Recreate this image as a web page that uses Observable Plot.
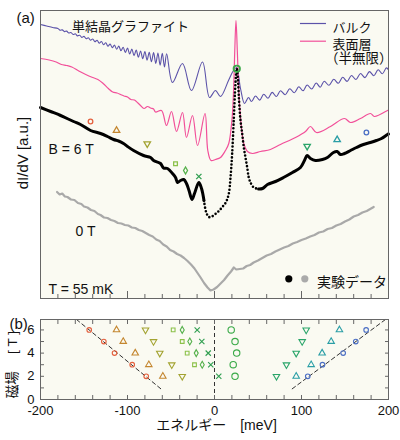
<!DOCTYPE html>
<html lang="ja">
<head>
<meta charset="utf-8">
<script src="https://cdn.jsdelivr.net/npm/d3@7"></script>
<script src="https://cdn.jsdelivr.net/npm/@observablehq/plot@0.6"></script>
<style>
html,body{margin:0;padding:0;background:#fff;}
#chart{width:400px;height:440px;}
#chart svg{display:block;}
</style>
</head>
<body>
<div id="chart"></div>
<script>
// ---------------- data ----------------
// energy E [meV], dI/dV [a.u.]
const xTicksMinor = [-200,-180,-160,-140,-120,-100,-80,-60,-40,-20,0,20,40,60,80,100,120,140,160,180,200];
const xTicksMajor = [-200,-100,0,100,200];
const xTickLabels = [-200,-100,0,100,200];
const bTicks = [0,1,2,3,4,5,6];
const bTickLabels = [0,2,4,6];

// calculated bulk spectrum (blue)
const bulk = [
[-200,274],[-193,272.5],[-186,271],
[-180,270.0],[-177.5,268.3],[-175,268.6],[-172.5,266.9],[-170,267.4],[-167.5,265.5],[-165,266.0],[-162.5,264.0],
[-160,264.7],[-157.5,262.6],[-155,263.3],[-152.5,261.1],[-150,262.1],[-147.5,259.8],[-145,260.8],[-142.5,258.3],
[-140,259.5],[-137.5,256.8],[-135,258.2],[-132.5,255.3],[-130,257.0],[-127.5,253.8],[-125,255.7],[-122.5,252.3],
[-120,254.5],[-117.5,250.8],[-115,253.4],[-112.5,249.3],[-110,252.4],[-107.5,247.7],[-105,251.3],[-102.5,246.1],
[-100,250.4],[-97.5,244.5],[-95,249.4],[-92.5,242.9],[-90,248.5],[-87.5,241.3],[-85,247.5],[-82.5,239.8],
[-80,246.9],[-77.5,238.4],[-75,246.2],[-72.5,236.8],[-70,245.9],[-67.5,235.1],[-65,245.5],[-62.5,233.3],
[-60,245.2],[-57.5,231.5],[-55,244.8],
[-48.3,216],[-36.8,235],[-26.5,208],[-13.8,236.5],[-5.7,201],[1.1,208],[6.9,202],[16.1,218],[21.8,228],
[25.3,231],[29.9,210],[34.5,195],[39.1,201],[42.5,197],
[47.1,202.5],[51.9,198.4],[56.6,204.3],[61.5,200.2],[66.3,206.1],[71.1,202.0],[75.8,207.8],[81.2,203.8],
[86.5,209.8],[91.7,205.8],[96.9,211.8],[101.7,207.7],[106.5,213.5],[111.7,209.5],[116.9,215.5],[121.5,211.3],
[126.1,217.2],[131.6,213.2],[137.1,219.2],[142.3,215.2],[147.4,221.2],[152.4,217.1],[157.4,223.0],[162.6,219.0],
[167.8,225.0],[173.0,220.9],[178.1,226.9],[183.1,222.8],[188.1,228.8],[192.9,224.7],[197.6,230.6],[200,228.5]
];

// calculated surface (semi-infinite) spectrum (pink)
const surface = [
[-200,240],[-190,238.5],[-182,236.5],[-176,234],[-170,233],[-164,231.5],[-156,227.5],[-148,224],[-140,221],
[-134,219],[-128,215],[-122,210],[-117,206.5],[-112,205.5],[-108,204],[-104,202.5],[-100,201.5],[-96,199],
[-92,198.5],[-88,195.5],[-85,193],[-81,190],[-77,192],[-73.5,190.5],[-70,189.5],[-67.8,186.5],
[-60.9,188],[-55.2,173],[-49.4,187],[-43.7,167],[-36.8,186],[-32.2,161],[-25.3,183],[-19.5,153],[-10.9,185],
[-7.7,148],[-4,138],[1.1,139],[6.9,141],[12.6,148],[16.4,155],[20.3,181],[22.2,215],[23.3,248],[24.7,278],
[26.2,248],[27.6,215],[29.9,181],[33.7,155],[37.9,147],[43.7,145],[52.9,147],[64.3,149],[75.8,154],
[93.1,161],[104.6,167],[110.3,172],[117.2,166],[133.3,172],[149.4,180],[156.3,176],[167.8,180],[179.2,185],
[183.8,182],[198.8,188],[200,188.5]
];

// measured, B = 6 T (black)
const black6T = [
[-200,191],[-188.4,187],[-176.9,183],[-162,177],[-154,174],[-142.5,168],[-131,165],[-123,162],[-116,159],
[-110.3,157.5],[-104.6,155],[-100,152],[-93,148],[-81.6,143],[-73.5,141],[-70,138],[-62,135],[-58.6,130.5],
[-54,130],[-48.3,125],[-44.8,121],[-42.5,116],[-39.1,118],[-35.3,119],[-32.2,115],[-29.3,108],[-25.9,99],
[-23,105],[-18,116],[-14.9,110],[-12.1,98],[-9.5,86],[-6.5,81.5],[-3,82],[1,84.5],[5,87.5],[9,91.5],[13,96],
[16.4,104.7],[18.4,121],[20.3,145],[22.2,180],[23.6,207],[24.7,223],[25.6,230],[27,218],[28.2,198],[29.9,178],
[31.8,165],[33.7,151],[35.6,141],[37.6,131],[39.4,121],[41.9,115],[45.2,111],[50.6,109.5],[55.2,110],
[60.9,114],[70.1,117],[79.3,121],[89.6,126],[98.8,131],[103.4,138],[106.5,143],[110.3,140],[116,138],
[124.1,139],[129.8,141],[136.7,146],[141,147],[144.8,144],[149.4,145],[156.3,148],[163.2,151],[171.2,154],
[179.2,156],[186.1,158],[191.9,160],[198.8,164],[200,164.5]
];

// measured, B = 0 T (gray)
const gray0T = [
[-181,106.5],[-178,104],[-175,105],[-172,102],[-169,101.5],[-165,99],[-161,98.5],[-157,95.5],[-153,94.5],
[-150,92],[-146,91],[-142,88.5],[-138,87.5],[-134,84.5],[-131,83.5],[-127,81],[-123,80.5],[-119,78.5],
[-115,77.5],[-111,75.5],[-107,75],[-103,73.5],[-99,73],[-95,71],[-91,70.5],[-87,68.5],[-83,67.5],[-79,65.5],
[-75,63.5],[-71,62],[-67,59],[-63,57.5],[-59,54],[-55,52],[-51,48.5],[-47,47],[-43,44.5],[-39,43],[-35,40.5],
[-31,37.5],[-27,34],[-23,30],[-19.9,26],[-16,21],[-12,15.5],[-8,11],[-4.6,8],[-1,9],[3,11.5],[7,15],[11,18.5],
[15,23],[19,27],[22.2,31],[25,29],[29,29.5],[33,30],[37,32.5],[41,33.5],[45,36],[50,38],[55,40.5],[60,43],
[65,44.5],[70,47],[75,49],[80,51],[85,52.5],[90,55],[95,56.5],[100,58.5],[105,60],[110,62],[115,63.5],
[120,66],[125,67],[130,69.5],[135,70.5],[140,73],[145,74.5],[150,77],[155,79],[160,82],[165,83.5],[170,86],
[175,87.5],[180,90],[183,91.5]
];

// Landau-level markers on the 6 T spectrum (panel a)
const markA_E = [-142.5, -112.6, -77.3, -44.8, -33.3, -18, 25.6, 106.5, 141, 174.6];
const markA_v = [177, 168, 154.7, 134.7, 128, 122, 229.7, 152.3, 158.7, 166];

// panel b: peak energy vs field
const fieldB = [6, 5, 4, 3, 2];
const llCircleOrange = [-144, -127.2, -114.9, -94.6, -78.5];
const llTriangleBrown = [-112.6, -104.9, -91.1, -75.5, -59.4];
const llTriDownOlive = [-79.3, -70.1, -62.9, -49.1, -37.1];
const llSquare = [-47.5, -37.1, -31.4, -23];
const llDiamond = [-37.1, -28.4, -21, -14.1];
const llTimes = [-19.9, -14.6, -7.2, -4.3, 4.9];
const llCircleGreen = [19.2, 23.6, 25.5, 21.5, 23.6];
const llTriDownGreen = [105.4, 100.8, 93.9, 82.7, 71.2];
const llTriangleTeal = [143.6, 134.1, 123.7, 111.1, 93.9];
const llCircleBlue = [174.3, 162.4, 147.9, 124.1, 107.2];

const guideLeft = [[-158.6, 6.9], [-59.4, 0.78]];
const guideRight = [[89.3, 0.92], [196.5, 6.9]];

// ---------------- styles ----------------
const FONT = "'Liberation Sans', Arial, 'Noto Sans CJK JP', sans-serif";
const BG = "#fafaf2";
const FRAME = "#666";
const BLUE = "#5b52a9";
const PINK = "#f2509a";
const GRAY = "#a9a9a9";
const INK = "#111";
const noLabel = () => "";

const famStyle = [
  {E: llCircleOrange, symbol: "circle", color: "#e4603e", rotate: 0, r: 2.3},
  {E: llTriangleBrown, symbol: "triangle", color: "#c4862f", rotate: 0, r: 2.4},
  {E: llTriDownOlive, symbol: "triangle", color: "#a3a331", rotate: 180, r: 2.4},
  {E: llSquare, symbol: "square", color: "#8cc14a", rotate: 0, r: 2.1},
  {E: llDiamond, symbol: "diamond", color: "#54b04a", rotate: 0, r: 2.1},
  {E: llTimes, symbol: "times", color: "#2f9e4f", rotate: 0, r: 2.5},
  {E: llCircleGreen, symbol: "circle", color: "#3aaa48", rotate: 0, r: 3.2},
  {E: llTriDownGreen, symbol: "triangle", color: "#2aa56a", rotate: 180, r: 2.4},
  {E: llTriangleTeal, symbol: "triangle", color: "#2a9ea6", rotate: 0, r: 2.4},
  {E: llCircleBlue, symbol: "circle", color: "#4a6ec4", rotate: 0, r: 2.3}
];

const xy = {x: d => d[0], y: d => d[1]};
const T = (str, o) => Plot.text([str], {text: d => d, fill: INK, fontSize: 14, ...o});

// ---------------- panel (a) ----------------
const plotA = Plot.plot({
  width: 400, height: 300,
  marginLeft: 40, marginRight: 12, marginTop: 10, marginBottom: 2,
  style: {fontFamily: FONT, background: "#fff", color: INK, overflow: "visible"},
  x: {domain: [-200, 200]},
  y: {domain: [0, 288], axis: null},
  marks: [
    Plot.frame({fill: BG, stroke: "none"}),
    Plot.line(gray0T, {...xy, stroke: GRAY, strokeWidth: 2.2}),
    Plot.line(bulk, {...xy, stroke: BLUE, strokeWidth: 1.1, curve: "catmull-rom"}),
    Plot.line(surface, {...xy, stroke: PINK, strokeWidth: 1.2, curve: "catmull-rom"}),
    Plot.line(black6T.filter(d => d[0] <= -12.1), {...xy, stroke: "#000", strokeWidth: 3, curve: "catmull-rom"}),
    Plot.line(black6T.filter(d => d[0] >= -12.1 && d[0] <= 50.6), {...xy, stroke: "#000", strokeWidth: 2.6, strokeLinecap: "round", strokeDasharray: "0,3.6", curve: "catmull-rom"}),
    Plot.line(black6T.filter(d => d[0] >= 50.6), {...xy, stroke: "#000", strokeWidth: 3, curve: "catmull-rom"}),
    ...famStyle.map((s, i) => Plot.dot([[markA_E[i], markA_v[i]]], {...xy, symbol: s.symbol, stroke: s.color, rotate: s.rotate, r: s.r, fill: "none", strokeWidth: i === 6 ? 1.8 : 1.3})),
    Plot.frame({stroke: FRAME}),
    Plot.axisX({ticks: xTicksMinor, anchor: "bottom", tickSize: -4, tickFormat: noLabel, label: null, stroke: FRAME}),
    Plot.axisX({ticks: xTicksMajor, anchor: "bottom", tickSize: -7, tickFormat: noLabel, label: null, stroke: FRAME}),
    // legend
    Plot.ruleY([275], {x1: 98.8, x2: 128.7, stroke: BLUE, strokeWidth: 1.2}),
    Plot.ruleY([257.3], {x1: 98.8, x2: 128.7, stroke: PINK, strokeWidth: 1.2}),
    T("バルク", {frameAnchor: "top-left", dx: 292, dy: 12.5, textAnchor: "start", fontSize: 13}),
    T("表面層", {frameAnchor: "top-left", dx: 292, dy: 29.5, textAnchor: "start", fontSize: 13}),
    T("（半無限）", {frameAnchor: "top-left", dx: 284.5, dy: 43, textAnchor: "start", fontSize: 13.5}),
    T("単結晶グラファイト", {frameAnchor: "top-left", dx: 31.5, dy: 11.5, textAnchor: "start", fontSize: 13}),
    T("B = 6 T", {frameAnchor: "top-left", dx: 8, dy: 134, textAnchor: "start"}),
    T("0 T", {frameAnchor: "top-left", dx: 35, dy: 216, textAnchor: "start"}),
    T("T = 55 mK", {frameAnchor: "top-left", dx: 8, dy: 274, textAnchor: "start"}),
    Plot.dot([[85.4, 19.7]], {...xy, r: 3.6, fill: "#000"}),
    Plot.dot([[103.8, 19.7]], {...xy, r: 3.6, fill: "#aaa"}),
    T("実験データ", {frameAnchor: "top-left", dx: 276.5, dy: 266.5, textAnchor: "start"}),
    // rotated axis title (placed through the scales, outside the x domain)
    Plot.text(["dI/dV [a.u.]"], {x: -219.5, y: 145.5, text: d => d, rotate: -90, fontSize: 15, fill: INK}),
    T("(a)", {frameAnchor: "top-left", dx: -24, dy: 2, fontSize: 15})
  ]
});

// ---------------- panel (b) ----------------
const dotMarksB = famStyle.map(s => Plot.dot(
  s.E.map((e, i) => [e, fieldB[i]]),
  {...xy, symbol: s.symbol, stroke: s.color, rotate: s.rotate, r: s.r, fill: "none", strokeWidth: 1.1}
));

const plotB = Plot.plot({
  width: 400, height: 140,
  marginLeft: 40, marginRight: 12, marginTop: 19, marginBottom: 41,
  style: {fontFamily: FONT, background: "#fff", color: INK, overflow: "visible"},
  x: {domain: [-200, 200]},
  y: {domain: [0, 6.9]},
  marks: [
    Plot.frame({fill: BG, stroke: "none"}),
    Plot.line(guideLeft, {...xy, stroke: "#333", strokeWidth: 1, strokeDasharray: "4,3"}),
    Plot.line(guideRight, {...xy, stroke: "#333", strokeWidth: 1, strokeDasharray: "4,3"}),
    Plot.ruleX([0], {stroke: "#333", strokeWidth: 1, strokeDasharray: "4,3"}),
    ...dotMarksB,
    Plot.frame({stroke: FRAME}),
    Plot.axisX({ticks: xTicksMinor, anchor: "bottom", tickSize: -4, tickFormat: noLabel, label: null, stroke: FRAME}),
    Plot.axisX({ticks: xTicksMinor, anchor: "top", tickSize: -4, tickFormat: noLabel, label: null, stroke: FRAME}),
    Plot.axisX({ticks: xTickLabels, anchor: "bottom", tickSize: 0, tickPadding: 6, tickFormat: d => String(d), label: null, fontSize: 13, fill: INK}),
    Plot.axisY({ticks: bTicks, anchor: "left", tickSize: -4, tickFormat: noLabel, label: null, stroke: FRAME}),
    Plot.axisY({ticks: bTicks, anchor: "right", tickSize: -4, tickFormat: noLabel, label: null, stroke: FRAME}),
    Plot.axisY({ticks: bTickLabels, anchor: "left", tickSize: 0, tickPadding: 6, tickFormat: d => String(d), label: null, fontSize: 13, fill: INK}),
    T("エネルギー　[meV]", {frameAnchor: "bottom", dx: 2, dy: 30}),
    Plot.text(["磁場　 [ T ]"], {x: -232, y: 3.0, text: d => d, rotate: -90, fontSize: 13.5, fill: INK}),
    T("(b)", {frameAnchor: "top-left", dx: -31, dy: -1, fontSize: 15})
  ]
});

document.getElementById("chart").append(plotA, plotB);
</script>
</body>
</html>
